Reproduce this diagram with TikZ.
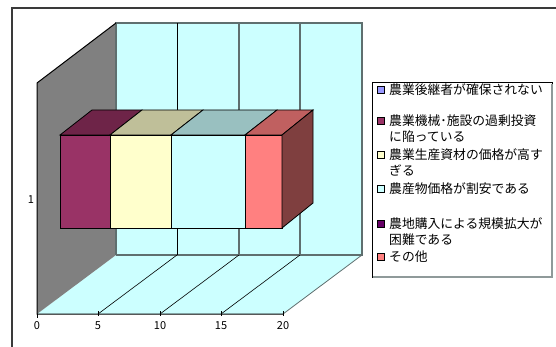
\documentclass[tikz,border=0pt]{standalone}
\usepackage{fontspec}
\newfontfamily\jpfont{Noto Sans CJK JP}
\definecolor{wallcyan}{HTML}{CCFFFF}
\definecolor{sidegray}{HTML}{808080}
\definecolor{gridgray}{HTML}{5F6F6F}
\definecolor{framegray}{HTML}{3A3A3A}
\definecolor{serA}{HTML}{9999FF}
\definecolor{serB}{HTML}{993366}
\definecolor{serBtop}{HTML}{6E2448}
\definecolor{serC}{HTML}{FFFFCC}
\definecolor{serCtop}{HTML}{BFBF99}
\definecolor{serD}{HTML}{CCFFFF}
\definecolor{serDtop}{HTML}{99C0C0}
\definecolor{serE}{HTML}{660066}
\definecolor{serF}{HTML}{FF8080}
\definecolor{serFtop}{HTML}{C06060}
\definecolor{serFside}{HTML}{7F3F3F}
\tikzset{
  legtext/.style={anchor=west, inner sep=0pt, font=\jpfont\fontsize{12.8}{16}\selectfont},
  ticktext/.style={inner sep=0pt, font=\jpfont\fontsize{11}{13}\selectfont},
  legbox/.style={draw=black, line width=0.6pt}
}
\begin{document}
\begin{tikzpicture}[x=1pt, y=-1pt]
			\useasboundingbox (0, 0) rectangle (556, 347);
			
			% chart frame
			\draw [framegray, line width=1.5pt] (12, 347) -- (12, 8) -- (556, 8);
			
			% walls and floor
			\fill [wallcyan] (116, 23) rectangle (362, 255);
			\fill [wallcyan] (37, 314) -- (116, 255) -- (362, 255) -- (283, 314) -- cycle;
			\fill [sidegray] (37, 83) -- (116, 23) -- (116, 255) -- (37, 314) -- cycle;
			\draw [gridgray, line width=1.2pt] (116, 255) -- (116, 23) -- (362, 23) -- (362, 255) -- (116, 255);
			\draw [gridgray, line width=0.8pt] (362, 255) -- (283, 314);
			\draw [black, line width=0.8pt] (177, 23) -- (177, 255);
			\draw [gridgray, line width=1.2pt] (239, 23) -- (239, 255);
			\draw [gridgray, line width=1.2pt] (300, 23) -- (300, 255);
			
			\draw [black, line width=0.6pt] (98, 314) -- (177, 255);
			\draw [black, line width=0.6pt] (160, 314) -- (239, 255);
			\draw [black, line width=0.6pt] (221, 314) -- (300, 255);
			%\draw [black] (37, 314) -- (116, 255);
			
			% axes
			\draw [black, line width=1pt] (116, 23) -- (37, 83) -- (37, 314) -- (283, 314);
			\draw [black, line width=0.6pt] (37, 314) -- (37, 318);
			\draw [black, line width=0.6pt] (98, 311) -- (98, 316);
			\draw [black, line width=0.6pt] (160, 311) -- (160, 316);
			\draw [black, line width=0.6pt] (221, 311) -- (221, 316);
			\draw [black, line width=0.6pt] (283, 311) -- (283, 316);
			
			% bar: front faces
			\draw [fill=serB, line width=0.8pt] (60, 135) rectangle (110, 228);
			\draw [fill=serC, line width=0.8pt] (110, 135) rectangle (171, 228);
			\draw [fill=serD, line width=0.8pt] (171, 135) rectangle (245, 228);
			\draw [fill=serF, line width=0.8pt] (245, 135) rectangle (282, 228);
			% bar: top faces
			\draw [fill=serBtop, line width=0.8pt] (60, 135) -- (92, 110) -- (142, 110) -- (110, 135) -- cycle;
			\draw [fill=serCtop, line width=0.8pt] (110, 135) -- (142, 110) -- (203, 110) -- (171, 135) -- cycle;
			\draw [fill=serDtop, line width=0.8pt] (171, 135) -- (203, 110) -- (277, 110) -- (245, 135) -- cycle;
			\draw [fill=serFtop, line width=0.8pt] (245, 135) -- (277, 110) -- (313, 110) -- (282, 135) -- cycle;
			% bar: side face
			\draw [fill=serFside, line width=0.8pt] (282, 135) -- (313, 110) -- (313, 203) -- (282, 228) -- cycle;
			
			% axis labels
			\node [ticktext] (cat1) at (31, 200) {1};
			\node [ticktext] (t0) at (37, 326) {0};
			\node [ticktext] (t5) at (98, 326) {5};
			\node [ticktext] (t10) at (160, 326) {10};
			\node [ticktext] (t15) at (221, 326) {15};
			\node [ticktext] (t20) at (283, 326) {20};
			
			% legend
			\draw [black, line width=1pt, fill=white] (372, 83) rectangle (552, 277);
			\draw [gridgray!70, line width=1.2pt] (373, 277) -- (552, 277) -- (552, 84);
			
			\draw [legbox, fill=serA] (377, 86) rectangle (384, 93);
			\draw [legbox, fill=serB] (377, 117) rectangle (384, 124);
			\draw [legbox, fill=serC] (377, 151) rectangle (384, 158);
			\draw [legbox, fill=serD] (377, 185) rectangle (384, 192);
			\draw [legbox, fill=serE] (377, 220) rectangle (384, 227);
			\draw [legbox, fill=serF] (377, 253) rectangle (384, 260);
			
			\node [legtext] (leg1) at (389, 89.5) {農業後継者が確保されない};
			\node [legtext] (leg2) at (389, 120.5) {農業機械･施設の過剰投資};
			\node [legtext] (leg2b) at (389, 136.5) {に陥っている};
			\node [legtext] (leg3) at (389, 154.5) {農業生産資材の価格が高す};
			\node [legtext] (leg3b) at (389, 170.5) {ぎる};
			\node [legtext] (leg4) at (389, 188.5) {農産物価格が割安である};
			\node [legtext] (leg5) at (389, 223.5) {農地購入による規模拡大が};
			\node [legtext] (leg5b) at (389, 239.5) {困難である};
			\node [legtext] (leg6) at (389, 256.5) {その他};
			
\end{tikzpicture}
\end{document}
